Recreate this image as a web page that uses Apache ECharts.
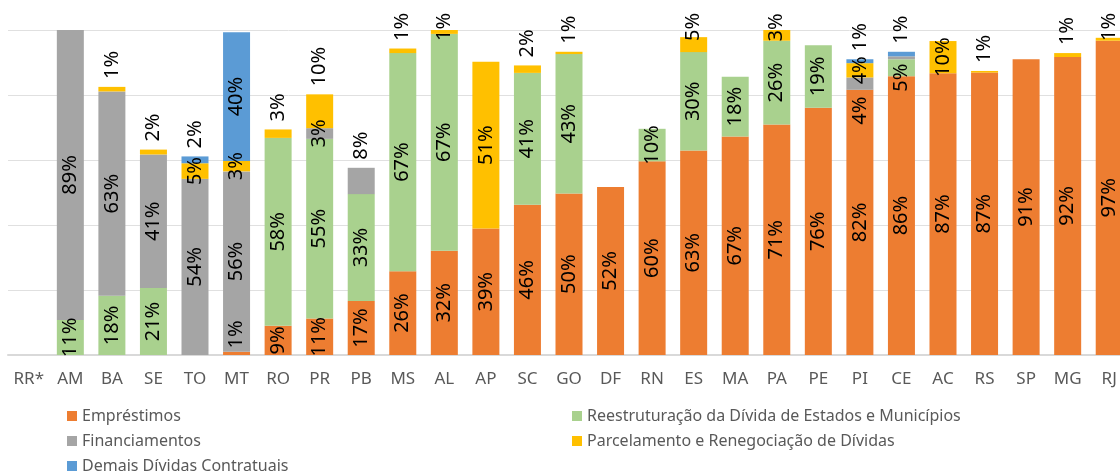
<!DOCTYPE html>
<html>
<head>
<meta charset="utf-8">
<title>Composição da dívida contratual por UF</title>
<script src="https://cdn.jsdelivr.net/npm/echarts@6/dist/echarts.min.js"></script>
<style>
  html, body { margin: 0; padding: 0; overflow: hidden; background: #fff; }
  #chart { width: 1130px; height: 474px; }
</style>
</head>
<body>
<div id="chart"></div>
<script>
// UFs, in the order of the chart
const ufs = ["RR*", "AM", "BA", "SE", "TO", "MT", "RO", "PR", "PB", "MS", "AL", "AP", "SC", "GO",
  "DF", "RN", "ES", "MA", "PA", "PE", "PI", "CE", "AC", "RS", "SP", "MG", "RJ"];

// share of each kind of debt (%)
const emprestimos    = [null, null, null, null, null, 1.0, 9.0, 11.2, 16.6, 25.8, 32.1, 38.9, 46.2, 49.7,
  51.7, 59.6, 62.9, 67.2, 70.9, 76.1, 81.6, 85.8, 86.7, 86.9, 91.0, 91.7, 96.7];
const reestruturacao = [null, 10.8, 18.2, 20.6, null, null, 57.8, 55.3, 32.9, 67.1, 66.7, null, 40.6, 42.9,
  null, 10.0, 30.3, 18.4, 25.8, 19.2, null, 5.2, null, null, null, null, null];
const financiamentos = [null, 89.2, 62.9, 41.1, 54.2, 55.5, null, 3.3, 8.1, null, null, null, null, null,
  null, null, null, null, null, null, 3.8, 0.9, null, null, null, null, null];
const parcelamento   = [null, null, 1.4, 1.5, 4.8, 3.2, 2.6, 10.4, null, 1.4, 1.2, 51.3, 2.3, 0.7,
  null, null, 4.6, null, 3.4, null, 4.4, null, 9.9, 0.5, null, 1.2, 0.9];
const demais         = [null, null, null, null, 2.1, 39.6, null, null, null, null, null, null, null, null,
  null, null, null, null, null, null, 1.2, 1.4, null, null, null, null, null];

const stack = [
  { name: "Empréstimos", color: "#ED7D31", values: emprestimos },
  { name: "Reestruturação da Dívida de Estados e Municípios", color: "#A9D18E", values: reestruturacao },
  { name: "Financiamentos", color: "#A5A5A5", values: financiamentos },
  { name: "Parcelamento e Renegociação de Dívidas", color: "#FFC000", values: parcelamento },
  { name: "Demais Dívidas Contratuais", color: "#5B9BD5", values: demais }
];

// label placement tweaks (the original had some labels dragged by hand)
const labelAbove = ["BA", "SE", "TO", "RO", "PR", "PB", "MS", "AL", "SC", "GO", "ES", "PA", "PI", "CE", "RS", "MG", "RJ"];
const labelShift = { "MT|0": -19, "PI|2": 27, "CE|1": 10 };
const labelHidden = ["CE|2"];

const FONT = '"Noto Sans", "Open Sans", sans-serif';
const LABEL_SIZE = 20;
const GRID_TOP = 30;
const GRID_BOTTOM = 355;
const pxPerPct = (GRID_BOTTOM - GRID_TOP) / 100;

const ctx = document.createElement("canvas").getContext("2d");
ctx.font = LABEL_SIZE + "px " + FONT;

const pct = v => Math.max(1, Math.round(v)) + "%";

// index of the topmost segment of each bar
const topIdx = ufs.map((uf, i) => {
  let top = -1;
  stack.forEach((s, k) => { if (s.values[i] != null) top = k; });
  return top;
});
const totals = ufs.map((uf, i) => stack.reduce((a, s) => a + (s.values[i] || 0), 0));

const series = stack.map((s, k) => ({
  name: s.name,
  type: "bar",
  stack: "total",
  barWidth: 27,
  itemStyle: { color: s.color },
  label: {
    show: true,
    position: "inside",
    rotate: 90,
    color: "#000",
    fontSize: LABEL_SIZE,
    fontFamily: FONT,
    formatter: p => pct(p.value)
  },
  data: s.values.map((v, i) => {
    if (v == null) return null;
    const key = ufs[i] + "|" + k;
    const label = {};
    if (labelHidden.indexOf(key) >= 0) label.show = false;
    if (labelAbove.indexOf(ufs[i]) >= 0 && topIdx[i] === k) {
      const barTop = GRID_TOP + (100 - totals[i]) * pxPerPct;
      const len = ctx.measureText(pct(v)).width;
      let d = 8;
      if (barTop - d - len < 13) d = barTop - 13 - len;
      label.position = "top";
      label.distance = d;
      label.align = "left";
      label.verticalAlign = "middle";
    }
    if (labelShift[key]) label.offset = [-labelShift[key], 0];
    return { value: v, label: label };
  })
}));

const legendText = { fontSize: 16, color: "#595959", fontFamily: FONT, lineHeight: 16 };
const legendBase = {
  orient: "vertical", top: 408, padding: 0, itemWidth: 10, itemHeight: 10,
  itemGap: 9, icon: "rect", textStyle: legendText
};

const myChart = echarts.init(document.getElementById("chart"));
myChart.setOption({
  animation: false,
  grid: { left: 8, right: 0, top: GRID_TOP, bottom: 474 - GRID_BOTTOM, containLabel: false, outerBoundsMode: "none" },
  legend: [
    Object.assign({ left: 67, data: [stack[0].name, stack[2].name, stack[4].name] }, legendBase),
    Object.assign({ left: 572, data: [stack[1].name, stack[3].name] }, legendBase)
  ],
  xAxis: {
    type: "category",
    data: ufs,
    axisLine: { lineStyle: { color: "#d9d9d9", width: 2 } },
    axisTick: { show: false },
    axisLabel: { interval: 0, color: "#595959", fontSize: 17, fontFamily: FONT, margin: 16 }
  },
  yAxis: {
    type: "value",
    min: 0,
    max: 100,
    interval: 20,
    axisLabel: { show: false },
    axisLine: { show: false },
    axisTick: { show: false },
    splitLine: { lineStyle: { color: "#e0e0e0", width: 1 } }
  },
  series: series
});
</script>
</body>
</html>
